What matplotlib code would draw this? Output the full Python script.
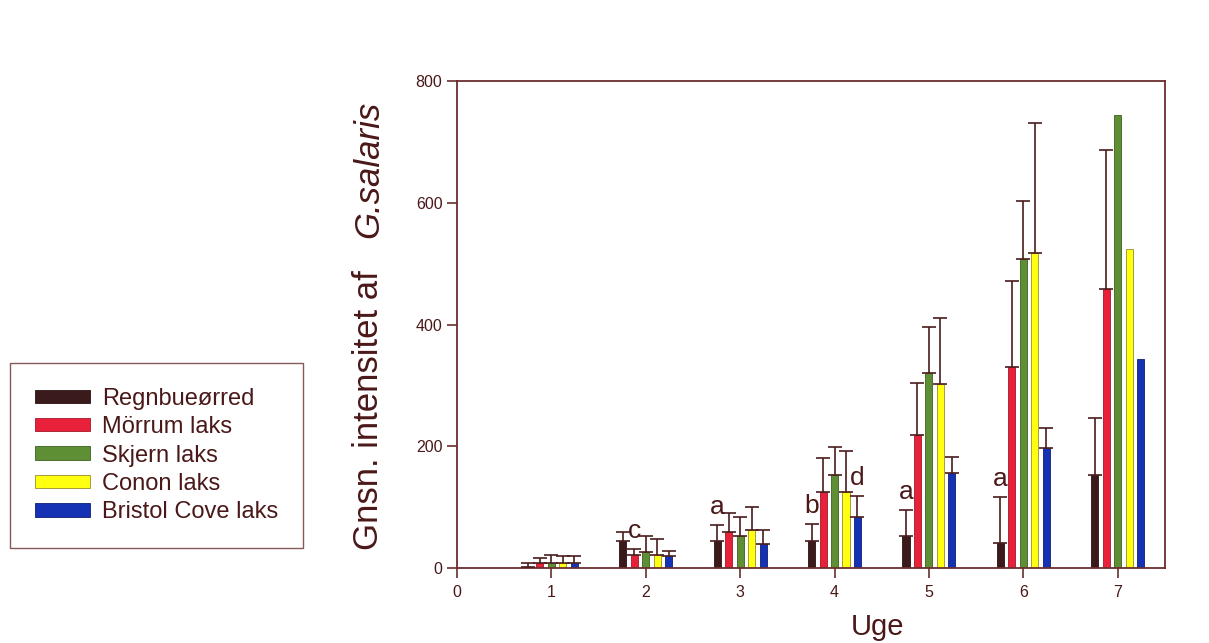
import numpy as np
import matplotlib.pyplot as plt

plt.rcParams['font.family'] = ['Liberation Sans', 'DejaVu Sans']

# data
uger = [1, 2, 3, 4, 5, 6, 7]
serier = ['Regnbueørred', 'Mörrum laks', 'Skjern laks', 'Conon laks', 'Bristol Cove laks']
regnbue = [1, 44, 44, 44, 53, 41, 153]
regnbue_se = [7, 15, 26, 28, 42, 76, 93]
morrum = [8, 21, 60, 125, 218, 330, 458]
morrum_se = [9, 10, 30, 56, 86, 141, 228]
skjern = [9, 26, 52, 153, 320, 507, 744]
skjern_se = [13, 26, 31, 46, 76, 96, 0]
conon = [9, 22, 63, 125, 302, 517, 524]
conon_se = [10, 25, 38, 67, 108, 214, 0]
bristol = [8, 19, 40, 84, 156, 197, 343]
bristol_se = [11, 9, 22, 34, 26, 33, 0]

# bogstaver: (uge, serie-index, bogstav)
bogstaver = [(2, 1, 'c'), (3, 0, 'a'), (4, 0, 'b'), (4, 4, 'd'), (5, 0, 'a'), (6, 0, 'a')]

farver = ['#3b1a1c', '#e8203a', '#5f8f34', '#ffff10', '#1532b5']
kant = ['#2a1012', '#a01828', '#3c6020', '#9a8a30', '#0c1f70']
brun = '#6b2e2e'
tekst = '#4a1818'

vaerdier = [regnbue, morrum, skjern, conon, bristol]
fejl = [regnbue_se, morrum_se, skjern_se, conon_se, bristol_se]

fig = plt.figure(figsize=(12.09, 6.43), dpi=100)
ax = fig.add_axes([0.378, 0.1166, 0.5855, 0.7574])

x = np.array(uger, dtype=float)
dx = 0.1216
bredde = 0.075

for i in range(5):
    pos = x + (i - 2) * dx
    y = np.array(vaerdier[i], dtype=float)
    e = np.array(fejl[i], dtype=float)
    ax.bar(pos, y, width=bredde, color=farver[i], edgecolor=kant[i], linewidth=0.6,
           label=serier[i], zorder=2)
    m = e > 0
    ax.errorbar(pos[m], y[m], yerr=[np.zeros(m.sum()), e[m]], fmt='none',
                ecolor='#4a1c1c', elinewidth=1.2, capsize=5, capthick=1.2, zorder=3)

for uge, s, b in bogstaver:
    i = uger.index(uge)
    top = vaerdier[s][i] + fejl[s][i]
    ax.text(uge + (s - 2) * dx, top + 10, b, ha='center', va='bottom',
            fontsize=19, color=tekst)

ax.set_xlim(0, 7.5)
ax.set_ylim(0, 800)
ax.set_xticks(range(0, 8))
ax.set_yticks([0, 200, 400, 600, 800])
for sp in ax.spines.values():
    sp.set_color(brun)
    sp.set_linewidth(1.3)
ax.tick_params(colors=brun, labelcolor=tekst, labelsize=11.5, length=7, width=1.2)
ax.tick_params(axis='x', pad=5)

# y-akse tekst i to dele
fig.text(0.305, 0.362, 'Gnsn. intensitet af', rotation=90,
         ha='center', va='center', fontsize=25, color=tekst)
fig.text(0.305, 0.736, 'G.salaris', rotation=90, style='italic',
         ha='center', va='center', fontsize=25, color=tekst)
fig.text(0.726, 0.012, 'Uge', ha='center', va='baseline', fontsize=21, color=tekst)

leg = fig.legend(loc='upper left', bbox_to_anchor=(0.0083, 0.4355), fontsize=17,
                 frameon=True, fancybox=False, handlelength=2.33, handleheight=0.5,
                 labelspacing=0.27, borderpad=1.05, handletextpad=0.5, borderaxespad=0)
leg.get_frame().set_edgecolor(brun)
leg.get_frame().set_linewidth(1.0)
for t in leg.get_texts():
    t.set_color(tekst)

plt.savefig('out.png', dpi=100)
